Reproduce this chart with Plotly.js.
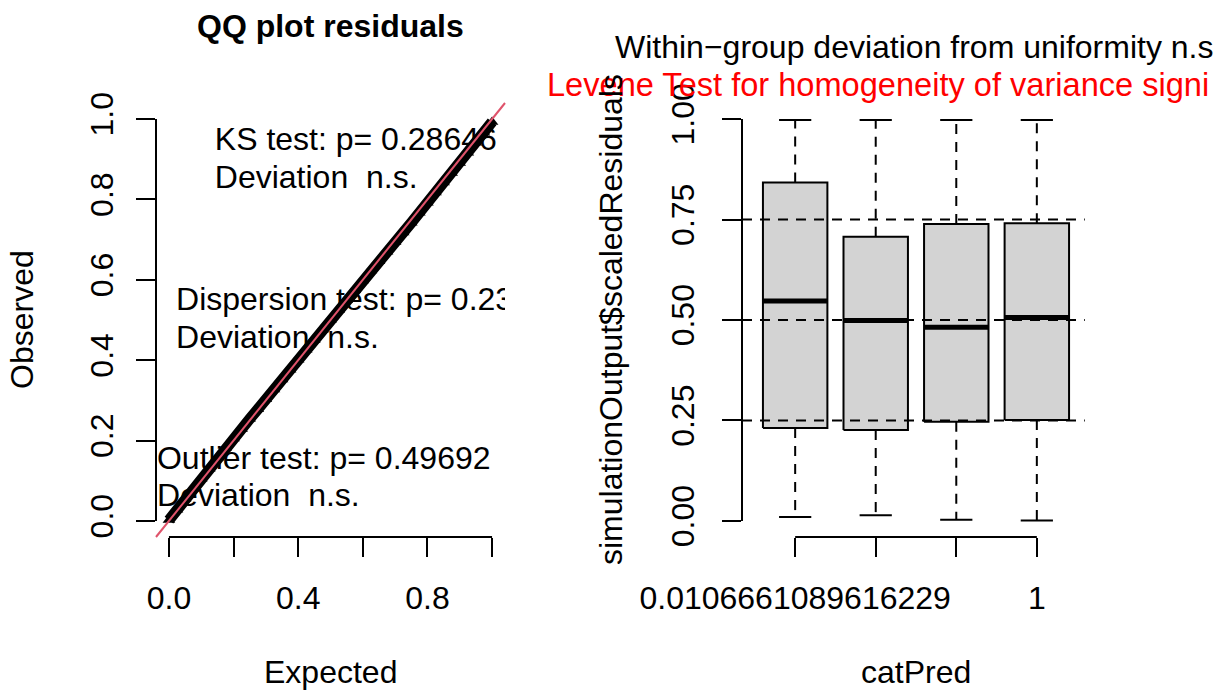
<!DOCTYPE html>
<html>
<head>
<meta charset="utf-8">
<script src="https://cdn.plot.ly/plotly-3.0.1.min.js"></script>
<style>html,body{margin:0;padding:0;background:#fff;overflow:hidden;}#chart{width:1223px;height:692px;}</style>
</head>
<body>
<div id="chart"></div>
<script>
// ---------------- DATA ----------------
// QQ plot of scaled residuals (expected vs observed quantiles)
const qqExpected = [0.000,0.025,0.050,0.075,0.100,0.125,0.150,0.175,0.200,0.225,0.250,0.275,0.300,0.325,0.350,0.375,0.400,0.425,0.450,0.475,0.500,0.525,0.550,0.575,0.600,0.625,0.650,0.675,0.700,0.725,0.750,0.775,0.800,0.825,0.850,0.875,0.900,0.925,0.950,0.975,1.000];
const qqObserved = [0.002,0.028,0.055,0.080,0.105,0.130,0.156,0.181,0.205,0.229,0.254,0.278,0.303,0.327,0.352,0.376,0.401,0.426,0.450,0.476,0.500,0.524,0.549,0.574,0.598,0.623,0.646,0.670,0.694,0.718,0.742,0.767,0.792,0.817,0.842,0.866,0.891,0.916,0.941,0.966,0.993];
const testLabels = ["KS test: p= 0.28646", "Deviation\u00A0 n.s.", "Dispersion test: p= 0.23", "Deviation\u00A0 n.s.", "Outlier test: p= 0.49692", "Deviation\u00A0 n.s."];
const qqXTicks = [0, 0.2, 0.4, 0.6, 0.8, 1.0];
const qqXTickText = ["0.0", "", "0.4", "", "0.8", ""];
const qqYTicks = [0, 0.2, 0.4, 0.6, 0.8, 1.0];
const qqYTickText = ["0.0", "0.2", "0.4", "0.6", "0.8", "1.0"];

// Box plot of residuals per level of catPred
const categories = ["0.0106661089616229", "level 2", "level 3", "1"];
const catTickText = ["0.0106661089616229", "", "", "1"];
const boxLow  = [0.010, 0.014, 0.003, 0.001];
const boxQ1   = [0.231, 0.226, 0.247, 0.251];
const boxMed  = [0.547, 0.499, 0.482, 0.506];
const boxQ3   = [0.842, 0.707, 0.739, 0.741];
const boxHigh = [0.998, 0.998, 0.998, 0.998];
const boxYTicks = [0, 0.25, 0.5, 0.75, 1.0];
const boxYTickText = ["0.00", "0.25", "0.50", "0.75", "1.00"];
const refLevels = [0.25, 0.5, 0.75];

const titleLeft = "QQ plot residuals";
const titleRight1 = "Within\u2212group deviation from uniformity n.s";
const titleRight2 = "Levene Test for homogeneity of variance signi";

// ---------------- LAYOUT HELPERS ----------------
const W = 1223, H = 692;
const px = v => v / W;
const py = v => 1 - v / H;
const FONT = "Liberation Sans, Arial, Helvetica, sans-serif";
const FS = 32;

// ---------------- TRACES ----------------
const traces = [];

// QQ points
traces.push({
  type: "scatter", mode: "lines+markers", x: qqExpected, y: qqObserved,
  xaxis: "x", yaxis: "y",
  line: {color: "black", width: 11},
  marker: {symbol: "triangle-up", size: 11, color: "black"},
  hoverinfo: "skip", showlegend: false, cliponaxis: false
});

// Test annotations (clipped to the plotting region like R's text)
const tX = [0.142, 0.142, 0.022, 0.022, -0.037, -0.037];
const tY = [0.943, 0.848, 0.545, 0.450, 0.149, 0.057];
traces.push({
  type: "scatter", mode: "text", x: tX, y: tY, text: testLabels,
  textposition: "middle right", xaxis: "x", yaxis: "y",
  textfont: {family: FONT, size: FS, color: "black"},
  cliponaxis: true, hoverinfo: "skip", showlegend: false
});

// Box plot pieces
const pos = categories.map((c, i) => i + 1);
const bw = 0.4, cw = 0.2;
let bx = [], by = [], mx = [], my = [], wx = [], wy = [], cx = [], cy = [];
pos.forEach((p, i) => {
  bx.push(p - bw, p + bw, p + bw, p - bw, p - bw, null);
  by.push(boxQ1[i], boxQ1[i], boxQ3[i], boxQ3[i], boxQ1[i], null);
  mx.push(p - bw, p + bw, null);
  my.push(boxMed[i], boxMed[i], null);
  wx.push(p, p, null, p, p, null);
  wy.push(boxQ3[i], boxHigh[i], null, boxQ1[i], boxLow[i], null);
  cx.push(p - cw, p + cw, null, p - cw, p + cw, null);
  cy.push(boxHigh[i], boxHigh[i], null, boxLow[i], boxLow[i], null);
});
traces.push({type: "scatter", mode: "lines", x: wx, y: wy, xaxis: "x2", yaxis: "y2",
  line: {color: "black", width: 2, dash: "10px,8px"}, hoverinfo: "skip", showlegend: false});
traces.push({type: "scatter", mode: "lines", x: cx, y: cy, xaxis: "x2", yaxis: "y2",
  line: {color: "black", width: 2}, hoverinfo: "skip", showlegend: false});
traces.push({type: "scatter", mode: "lines", x: bx, y: by, xaxis: "x2", yaxis: "y2",
  fill: "toself", fillcolor: "#D3D3D3", line: {color: "black", width: 2},
  hoverinfo: "skip", showlegend: false});
traces.push({type: "scatter", mode: "lines", x: mx, y: my, xaxis: "x2", yaxis: "y2",
  line: {color: "black", width: 5}, hoverinfo: "skip", showlegend: false});

// ---------------- SHAPES ----------------
const shapes = [];
// reference line y = x
shapes.push({type: "line", xref: "x domain", yref: "y domain", x0: 0, y0: 0, x1: 1, y1: 1,
  line: {color: "#DF536B", width: 2}});
// R-style axis lines spanning tick range
const axLine = {color: "black", width: 2};
shapes.push({type: "line", xref: "x domain", yref: "y", x0: 0, x1: 0, y0: qqYTicks[0], y1: qqYTicks[qqYTicks.length - 1], line: axLine});
shapes.push({type: "line", xref: "x", yref: "y domain", x0: qqXTicks[0], x1: qqXTicks[qqXTicks.length - 1], y0: 0, y1: 0, line: axLine});
shapes.push({type: "line", xref: "x2 domain", yref: "y2", x0: 0, x1: 0, y0: boxYTicks[0], y1: boxYTicks[boxYTicks.length - 1], line: axLine});
shapes.push({type: "line", xref: "x2", yref: "y2 domain", x0: pos[0], x1: pos[pos.length - 1], y0: 0, y1: 0, line: axLine});
// dashed reference levels
refLevels.forEach(v => shapes.push({type: "line", xref: "x2 domain", yref: "y2", x0: 0, x1: 0.985, y0: v, y1: v,
  line: {color: "black", width: 2, dash: "10px,8px"}}));

// ---------------- ANNOTATIONS ----------------
const ann = (text, x, y, opts) => Object.assign({text: text, xref: "paper", yref: "paper", x: x, y: y,
  xanchor: "center", yanchor: "middle", showarrow: false, font: {family: FONT, size: FS, color: "black"}}, opts || {});
const annotations = [
  ann("<b>" + titleLeft + "</b>", px(330.5), py(26), {font: {family: FONT, size: 32, color: "black"}}),
  ann(titleRight1, px(613), py(47), {xanchor: "left", font: {family: FONT, size: 32, color: "black"}}),
  ann(titleRight2, px(545), py(85), {xanchor: "left", font: {family: FONT, size: 32.6, color: "#FF0000"}}),
  ann("Expected", px(330.5), py(672)),
  ann("catPred", px(916), py(672)),
  ann("Observed", px(22), py(320), {textangle: -90}),
  ann("simulationOutput$scaledResiduals", px(611), py(320), {textangle: -90})
];

const axBase = {showgrid: false, zeroline: false, showline: false, ticks: "outside", ticklen: 19,
  tickwidth: 2, tickcolor: "black", tickfont: {family: FONT, size: FS, color: "black"}, fixedrange: true};

const layout = {
  width: W, height: H, margin: {l: 0, r: 0, t: 0, b: 0}, paper_bgcolor: "white", plot_bgcolor: "white",
  showlegend: false,
  xaxis: Object.assign({}, axBase, {domain: [px(156), px(505)], range: [-0.04, 1.04], anchor: "y",
    tickmode: "array", tickvals: qqXTicks, ticktext: qqXTickText, ticklabelstandoff: 14}),
  yaxis: Object.assign({}, axBase, {domain: [py(537), py(103)], range: [-0.04, 1.04], anchor: "x",
    tickmode: "array", tickvals: qqYTicks, ticktext: qqYTickText, tickangle: -90, ticklabelstandoff: 10}),
  xaxis2: Object.assign({}, axBase, {domain: [px(742), px(1090)], range: [0.34, 4.66], anchor: "y2",
    tickmode: "array", tickvals: pos, ticktext: catTickText, ticklabelstandoff: 14}),
  yaxis2: Object.assign({}, axBase, {domain: [py(537), py(103)], range: [-0.04, 1.04], anchor: "x2",
    tickmode: "array", tickvals: boxYTicks, ticktext: boxYTickText, tickangle: -90, ticklabelstandoff: 15}),
  shapes: shapes,
  annotations: annotations
};

Plotly.newPlot("chart", traces, layout, {staticPlot: true, displayModeBar: false});
</script>
</body>
</html>
